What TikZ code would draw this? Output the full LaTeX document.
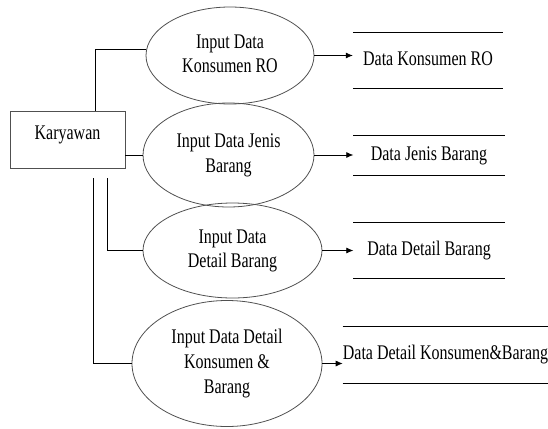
\documentclass[tikz,border=0pt]{standalone}
\usepackage{fontspec}
\setmainfont{Liberation Serif}
\newfontfamily\dfdfont{Liberation Serif}
\usepackage{graphicx}
\usetikzlibrary{arrows.meta}
\usetikzlibrary{shapes.geometric}
\usetikzlibrary{calc}
\definecolor{edgegray}{RGB}{80,80,80}
\newcommand{\stretchtxt}[1]{\scalebox{1}[1.3]{\begin{tabular}{@{}c@{}}#1\end{tabular}}}

\begin{document}
\begin{tikzpicture}[x=1pt,y=-1pt,font=\dfdfont\fontsize{16}{19}\selectfont]
  \tikzset{
    proc/.style={ellipse,draw=edgegray,line width=0.8pt,inner sep=0pt},
    store/.style={inner sep=0pt,minimum width=150pt,minimum height=55pt},
    flow/.style={-{Latex[length=7pt,width=6pt]},line width=0.7pt},
  }
  \useasboundingbox (0,0) rectangle (548,428);
  %ENTITY
  \node[draw=edgegray,line width=0.8pt,minimum width=115pt,minimum height=57pt,inner sep=0pt,text depth=17pt] (K) at (67.5,139.5) {\stretchtxt{Karyawan}};

  %PROCESS 1
  \node[proc,minimum width=168pt,minimum height=97pt] (P1) at (230,55.5) {\stretchtxt{Input Data\\Konsumen RO}};
  %PROCESS 2
  \node[proc,minimum width=171pt,minimum height=104pt] (P2) at (228.5,155) {\stretchtxt{Input Data Jenis\\Barang}};
  %PROCESS 3
  \node[proc,minimum width=179pt,minimum height=95pt] (P3) at (232.5,250.5) {\stretchtxt{Input Data\\Detail Barang}};
  %PROCESS 4
  \node[proc,minimum width=190pt,minimum height=126pt] (P4) at (227,363.5) {\stretchtxt{Input Data Detail\\Konsumen \&\\Barang}};

  %DATA STORES
  \node[store] (D1) at (428,60.5) {\stretchtxt{Data Konsumen RO}};
  \node[store,minimum width=151pt,minimum height=39pt] (D2) at (429,155.5) {\stretchtxt{Data Jenis Barang}};
  \node[store,minimum width=151pt] (D3) at (429,250.5) {\stretchtxt{Data Detail Barang}};
  \node[store,minimum width=205pt,minimum height=56pt] (D4) at (445.5,355) {\stretchtxt{Data Detail Konsumen\&Barang}};

  %STORE LINES
  \foreach \d in {D1,D2,D3,D4}{
    \draw[line width=0.7pt] (\d.north west) -- (\d.north east) (\d.south west) -- (\d.south east);
  }
  %FLOWS
  \foreach \i in {1,2,3,4}{
    \draw[flow] (P\i.east) -- (P\i.east -| D\i.west);
  }

  %CONNECTORS
  \draw[line width=0.7pt] (K.north -| 95,0) |- (P1.176);
  \draw[line width=0.7pt] (K.east |- P2.west) -- (P2.west);
  \draw[line width=0.7pt] ([yshift=-10pt]K.south -| 107,0) |- (P3.west);
  \draw[line width=0.7pt] ([yshift=-10pt]K.south -| 93,0) |- (P4.west);
\end{tikzpicture}
\end{document}
